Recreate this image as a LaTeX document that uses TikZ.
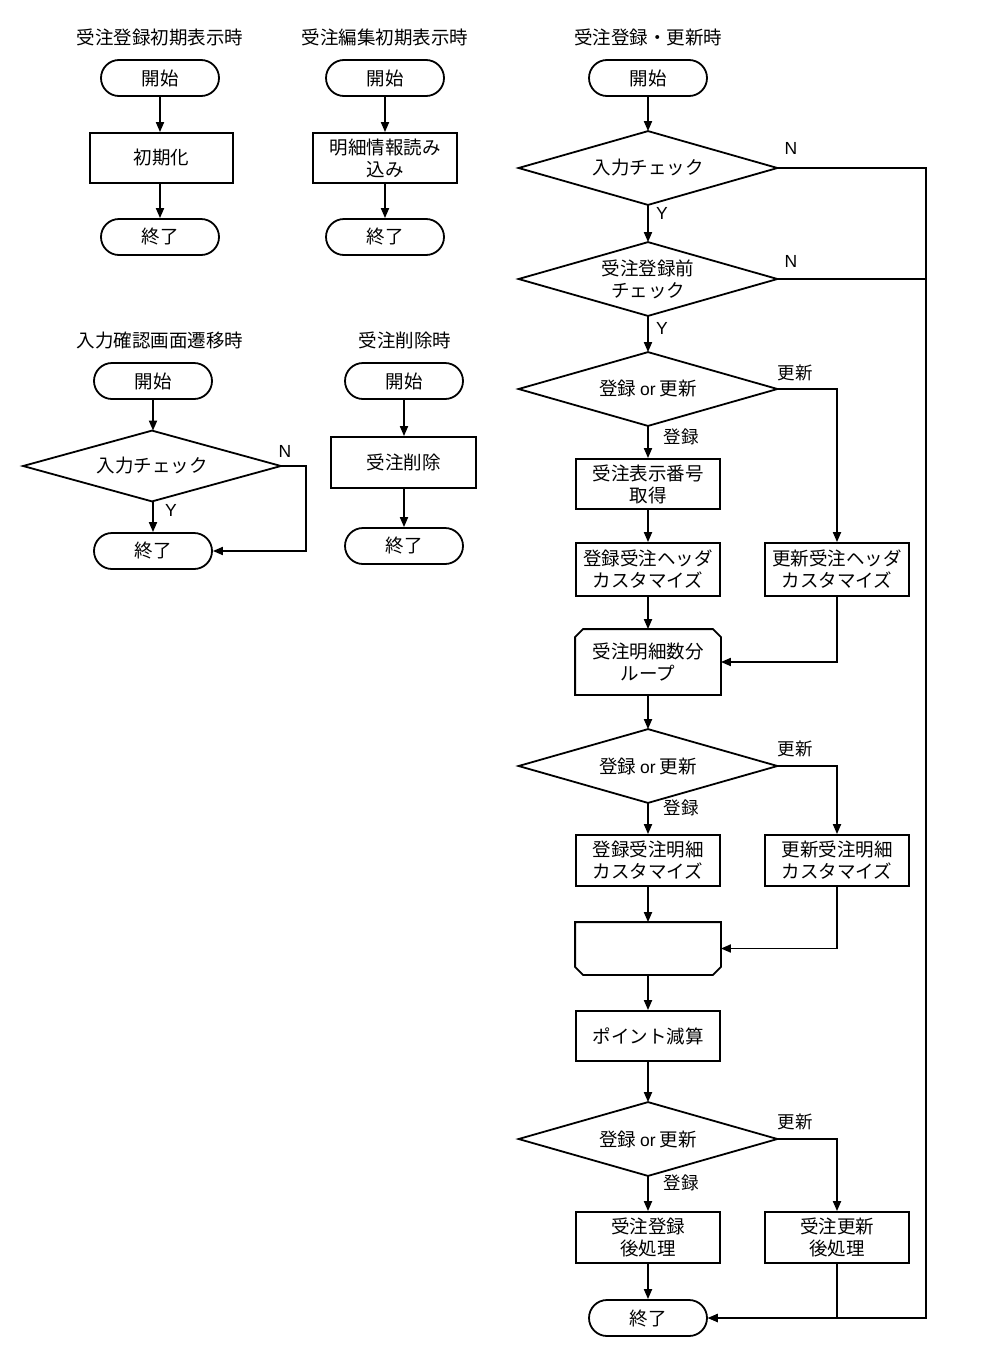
\documentclass[tikz,border=0pt]{standalone}
\usepackage{fontspec}
\setmainfont{Noto Sans CJK JP}
\newfontfamily\latf{Liberation Sans}
\usetikzlibrary{shapes.geometric,arrows.meta,calc}
\tikzset{
  base/.style={font=\fontsize{18.5}{22}\selectfont, align=center, inner sep=0pt, line width=1.8pt},
  term/.style={base, draw, rounded corners=18pt, minimum width=118pt, minimum height=36pt},
  proc/.style={base, draw, minimum width=144pt, minimum height=51pt},
  dec/.style={base, minimum width=257pt, minimum height=72pt},
  loopbox/.style={base, minimum width=144pt, minimum height=51pt},
  ttl/.style={font=\fontsize{18.5}{22}\selectfont, inner sep=0pt},
  lbl/.style={font=\fontsize{17.5}{20}\selectfont, inner sep=0pt},
  conn/.style={line width=1.8pt, -{Triangle[length=10pt,width=8pt]}},
  plain/.style={line width=1.8pt, line join=miter},
}
\newcommand{\drawdia}[1]{\draw[plain] (#1.west) -- (#1.north) -- (#1.east) -- (#1.south) -- cycle;}
\newcommand{\orword}{{\latf\fontsize{17.5}{22}\selectfont or}}
\begin{document}
\begin{tikzpicture}[x=1pt,y=-1pt]
\useasboundingbox (0,0) rectangle (999,1360);
\fill[white] (0,0) rectangle (999,1360);

% Column 1
\node[ttl] (t1) at (160,37) {受注登録初期表示時};
\node[term] (s1) at (160,78) {開始};
\node[proc, minimum height=50pt, minimum width=143pt] (p1) at (161.5,158) {初期化};
\node[term] (e1) at (160,237) {終了};
\draw[conn] (s1) -- (s1 |- p1.north);
\draw[conn] (s1 |- p1.south) -- (e1);

% Column 2
\node[ttl] (t2) at (385,37) {受注編集初期表示時};
\node[term] (s2) at (385,78) {開始};
\node[proc, minimum height=50pt] (p2) at (385,158) {明細情報読み\\込み};
\node[term] (e2) at (385,237) {終了};
\draw[conn] (s2) -- (p2);
\draw[conn] (p2) -- (e2);

% Column 4
\node[ttl] (t4) at (160,340) {入力確認画面遷移時};
\node[term] (s4) at (153,381) {開始};
\node[dec, minimum width=256pt, minimum height=69pt] (d6) at (152,466) {入力チェック};
\drawdia{d6}
\node[term] (e4) at (153,551) {終了};
\coordinate (c4) at (306,466);
\draw[conn] (s4) -- (s4 |- d6.north);
\draw[conn] (s4 |- d6.south) -- (e4);
\draw[conn] (d6.east) -- (c4) |- (e4.east);
\node[lbl, font=\latf\fontsize{17.5}{20}\selectfont] (n4) at (285,451) {N};
\node[lbl, font=\latf\fontsize{17.5}{20}\selectfont] (y4) at (171,510) {Y};

% Column 5
\node[ttl] (t5) at (405,340) {受注削除時};
\node[term] (s5) at (404,381) {開始};
\node[proc, minimum width=145pt] (p5) at (403.5,462.5) {受注削除};
\node[term] (e5) at (404,546) {終了};
\draw[conn] (s5) -- (s5 |- p5.north);
\draw[conn] (s5 |- p5.south) -- (e5);

% Column 3
\node[ttl] (t3) at (648,37) {受注登録・更新時};
\node[term] (s3) at (648,78) {開始};
\node[dec] (d1) at (648,168) {入力チェック};
\drawdia{d1}
\node[dec] (d2) at (648,279) {受注登録前\\チェック};
\drawdia{d2}
\node[dec] (d3) at (648,389) {登録 \orword{} 更新};
\drawdia{d3}
\node[proc, minimum height=50pt] (b1) at (648,484) {受注表示番号\\取得};
\node[proc, minimum height=53pt] (b2) at (648,569.5) {登録受注ヘッダ\\カスタマイズ};
\node[proc, minimum height=53pt] (b3) at (837,569.5) {更新受注ヘッダ\\カスタマイズ};
\node[loopbox, minimum height=64pt] (ls) at (648,662) {受注明細数分\\ループ};
\draw[plain] (ls.south west) -- ($(ls.north west)+(0,8)$) -- ($(ls.north west)+(8,0)$) -- ($(ls.north east)+(-8,0)$) -- ($(ls.north east)+(0,8)$) -- (ls.south east) -- cycle;
\node[dec] (d4) at (648,766) {登録 \orword{} 更新};
\drawdia{d4}
\node[proc] (b4) at (648,860.5) {登録受注明細\\カスタマイズ};
\node[proc] (b5) at (837,860.5) {更新受注明細\\カスタマイズ};
\node[loopbox] (le) at (648,948.5) {};
\draw[plain] (le.north west) -- ($(le.south west)+(0,-8)$) -- ($(le.south west)+(8,0)$) -- ($(le.south east)+(-8,0)$) -- ($(le.south east)+(0,-8)$) -- (le.north east) -- cycle;
\node[proc, minimum height=50pt] (b6) at (648,1036) {ポイント減算};
\node[dec] (d5) at (648,1139) {登録 \orword{} 更新};
\drawdia{d5}
\node[proc] (b7) at (648,1237.5) {受注登録\\後処理};
\node[proc] (b8) at (837,1237.5) {受注更新\\後処理};
\node[term] (e3) at (648,1318) {終了};

\coordinate (r1) at (926,168);
\coordinate (r2) at (926,279);

\draw[conn] (s3) -- (d1);
\draw[conn] (d1) -- (d2);
\draw[conn] (d1.east) -- (r1) |- (e3.east);
\draw[plain] (d2.east) -- (r2);
\draw[conn] (d2) -- (d3);
\draw[conn] (d3) -- (b1);
\draw[conn] (d3.east) -| (b3.north);
\draw[conn] (b1) -- (b2);
\draw[conn] (b2) -- (ls);
\draw[conn] (b3.south) |- (ls.east);
\draw[conn] (ls) -- (d4);
\draw[conn] (d4) -- (b4);
\draw[conn] (d4.east) -| (b5.north);
\draw[conn] (b4) -- (le);
\draw[conn] (b5.south) |- (le.east);
\draw[conn] (le) -- (b6);
\draw[conn] (b6) -- (d5);
\draw[conn] (d5) -- (b7);
\draw[conn] (d5.east) -| (b8.north);
\draw[conn] (b7) -- (e3);
\draw[conn] (b8.south) |- (e3.east);

\node[lbl, font=\latf\fontsize{17.5}{20}\selectfont] (n1) at (791,148) {N};
\node[lbl, font=\latf\fontsize{17.5}{20}\selectfont] (y1) at (662,213) {Y};
\node[lbl, font=\latf\fontsize{17.5}{20}\selectfont] (n2) at (791,261) {N};
\node[lbl, font=\latf\fontsize{17.5}{20}\selectfont] (y2) at (662,328) {Y};
\node[lbl] (u3) at (795,373) {更新};
\node[lbl] (g3) at (681,437) {登録};
\node[lbl] (u4) at (795,749) {更新};
\node[lbl] (g4) at (681,808) {登録};
\node[lbl] (u5) at (795,1122) {更新};
\node[lbl] (g5) at (681,1183) {登録};
\end{tikzpicture}
\end{document}
